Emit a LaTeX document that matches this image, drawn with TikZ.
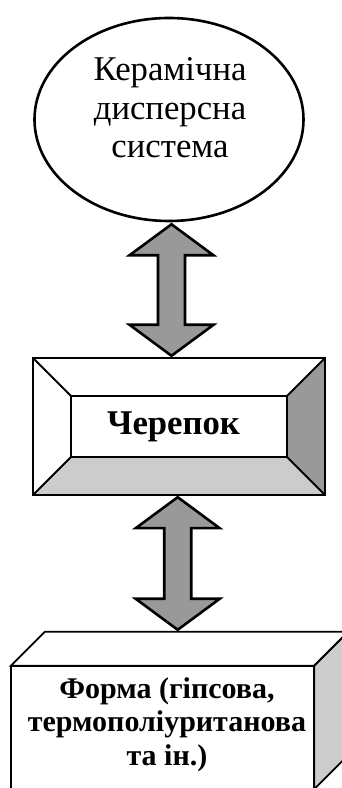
\documentclass[tikz,border=0pt]{standalone}
\usepackage{fontspec}
\setmainfont{Liberation Serif}
\usetikzlibrary{shapes.geometric, calc, positioning}
\definecolor{grigioscuro}{HTML}{999999}
\definecolor{grigiochiaro}{HTML}{CCCCCC}

\begin{document}
\begin{tikzpicture}[x = 1pt, y = 1pt,
    linea/.style = {line width = 1.8pt, line join = miter},
    ellisse/.style = {ellipse, draw, line width = 2.6pt, minimum width = 269pt, minimum height = 203pt, inner sep = 0pt},
    freccia/.style = {draw, line width = 2.6pt, line join = miter, fill = grigioscuro},
    testo/.style = {align = center, inner sep = 0pt, font = \fontsize{34.7}{38.5}\selectfont},
    grassetto/.style = {align = center, inner sep = 0pt, font = \bfseries\fontsize{34.7}{38.5}\selectfont},
    piccolo/.style = {align = center, inner sep = 0pt, font = \bfseries\fontsize{30}{33.5}\selectfont}]
    % Parametri
    \pgfmathsetmacro{\bev}{38}
    \pgfmathsetmacro{\prof}{34}
    \pgfmathsetmacro{\pl}{42}
    \pgfmathsetmacro{\ph}{31}
    \pgfmathsetmacro{\sl}{13.5}
    \useasboundingbox (0,0) rectangle (342,788);
    \clip (0,0) rectangle (342,788);
    % Ellisse
    \node[ellisse] (sistema) at (169,668.5) {};
    \node[testo, anchor = base] (sistema-testo) at (170,630) {Керамічна\\дисперсна\\система};
    % Cornice
    \node[minimum width = 292pt, minimum height = 137pt, inner sep = 0pt] (cherepok) at (179,361.5) {};
    \fill[grigioscuro] (cherepok.north east) -- (cherepok.south east)
        -- ($(cherepok.south east)+(-\bev,\bev)$) -- ($(cherepok.north east)+(-\bev,-\bev)$) -- cycle;
    \fill[grigiochiaro] (cherepok.south west) -- (cherepok.south east)
        -- ($(cherepok.south east)+(-\bev,\bev)$) -- ($(cherepok.south west)+(\bev,\bev)$) -- cycle;
    \draw[linea] ($(cherepok.south west)+(\bev,\bev)$) rectangle ($(cherepok.north east)+(-\bev,-\bev)$);
    \foreach \a/\sx/\sy in {north east/-1/-1, north west/1/-1, south west/1/1, south east/-1/1}{
        \draw[linea] (cherepok.\a) -- ++({\sx*\bev},{\sy*\bev});
    }
    \draw[linea] (cherepok.south west) rectangle (cherepok.north east);
    \node[grassetto] (cherepok-testo) at ([xshift=-5.5pt]cherepok.center) {Черепок};
    % Forma
    \node[minimum width = 303pt, minimum height = 123pt, inner sep = 0pt] (forma) at (162.5,60.5) {};
    \filldraw[linea, fill = white] (forma.north west) -- ++(\prof,\prof)
        -- ($(forma.north east)+(\prof,\prof)$) -- (forma.north east) -- cycle;
    \filldraw[linea, fill = grigiochiaro] (forma.north east) -- ++(\prof,\prof)
        -- ($(forma.south east)+(\prof,\prof)$) -- (forma.south east) -- cycle;
    \draw[linea] (forma.south west) rectangle (forma.north east);
    \node[piccolo, anchor = base] (forma-testo) at (167,23) {Форма (гіпсова,\\термополіуританова\\та ін.)};
    % Frecce
    \draw[freccia] let \p1 = ([shift = {(2.5,-2)}]sistema.south), \p2 = ([yshift = 2pt]cherepok.north) in
        (\x1,\y1) -- ++(-\pl,-\ph) -- ++(\pl-\sl,0) -- (\x1-\sl,\y2+\ph) -- ++(\sl-\pl,0) -- (\x1,\y2)
        -- ++(\pl,\ph) -- ++(\sl-\pl,0) -- (\x1+\sl,\y1-\ph) -- ++(\pl-\sl,0) -- cycle;
    \draw[freccia] let \p1 = ([shift = {(-1.3,-2)}]cherepok.south), \p2 = ([yshift = \prof+2]forma.north) in
        (\x1,\y1) -- ++(-\pl,-\ph) -- ++(\pl-\sl,0) -- (\x1-\sl,\y2+\ph) -- ++(\sl-\pl,0) -- (\x1,\y2)
        -- ++(\pl,\ph) -- ++(\sl-\pl,0) -- (\x1+\sl,\y1-\ph) -- ++(\pl-\sl,0) -- cycle;
\end{tikzpicture}
\end{document}
